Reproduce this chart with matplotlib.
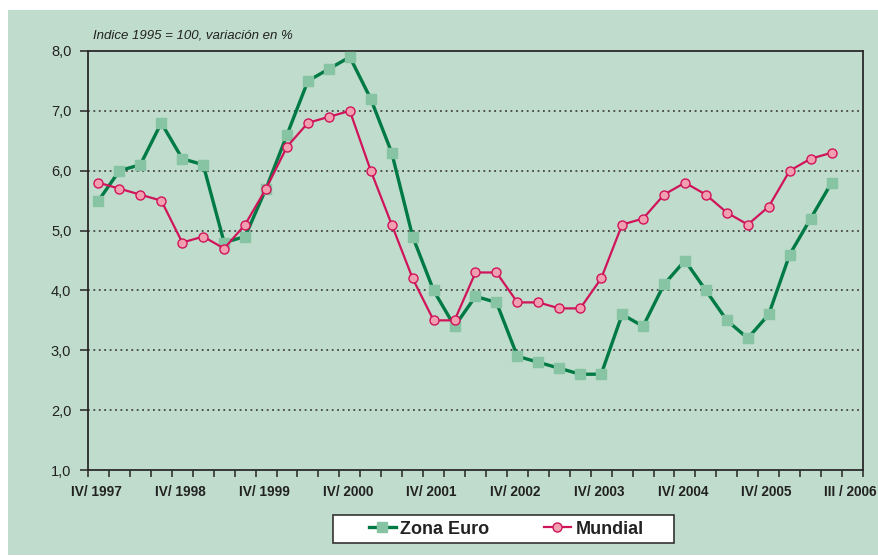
import matplotlib
matplotlib.use("Agg")
import matplotlib.pyplot as plt
from matplotlib.patches import Rectangle
import numpy as np

plt.rcParams['font.family'] = ['Liberation Sans', 'DejaVu Sans']

zona_euro = [5.5, 6.0, 6.1, 6.8, 6.2, 6.1, 4.8, 4.9, 5.7, 6.6, 7.5, 7.7, 7.9, 7.2,
             6.3, 4.9, 4.0, 3.4, 3.9, 3.8, 2.9, 2.8, 2.7, 2.6, 2.6, 3.6, 3.4, 4.1,
             4.5, 4.0, 3.5, 3.2, 3.6, 4.6, 5.2, 5.8]
mundial = [5.8, 5.7, 5.6, 5.5, 4.8, 4.9, 4.7, 5.1, 5.7, 6.4, 6.8, 6.9, 7.0, 6.0,
           5.1, 4.2, 3.5, 3.5, 4.3, 4.3, 3.8, 3.8, 3.7, 3.7, 4.2, 5.1, 5.2, 5.6,
           5.8, 5.6, 5.3, 5.1, 5.4, 6.0, 6.2, 6.3]
tick_labels = ["IV/ 1997", "IV/ 1998", "IV/ 1999", "IV/ 2000", "IV/ 2001", "IV/ 2002",
               "IV/ 2003", "IV/ 2004", "IV/ 2005", "III / 2006"]
tick_pos = [0, 4, 8, 12, 16, 20, 24, 28, 32, 36]
y_ticks = [1, 2, 3, 4, 5, 6, 7, 8]

BG = "#c0dccc"
W, H = 879, 556
fig = plt.figure(figsize=(W / 100, H / 100), dpi=100)
fig.patch.set_facecolor("white")
fig.patches.append(Rectangle((8 / W, 1 - 555 / H), (W - 8) / W, (555 - 10) / H,
                             transform=fig.transFigure, facecolor=BG, edgecolor="none", zorder=-10))
# legend box
fig.patches.append(Rectangle((333 / W, 1 - 543 / H), (674 - 333) / W, (543 - 515) / H,
                             transform=fig.transFigure, facecolor="white", edgecolor="#333333",
                             lw=1.2, zorder=-5))

ax = fig.add_axes([88 / W, 1 - 470 / H, (863 - 88) / W, (470 - 51) / H])
ax.set_facecolor(BG)
x = np.arange(len(zona_euro))

ax.plot(x, zona_euro, color="#007a45", lw=2.4, marker="s", ms=7,
        mfc="#86c4a4", mec="#86c4a4", label="Zona Euro", zorder=3)
ax.plot(x, mundial, color="#d0145a", lw=1.6, marker="o", ms=6.5,
        mfc="#f0a0b0", mec="#d0145a", mew=1.0, label="Mundial", zorder=4)

ax.set_xlim(-0.5, 36.5)
ax.set_ylim(1, 8)
ax.set_yticks(y_ticks)
ax.set_yticklabels([f"{v:.1f}".replace(".", ",") for v in y_ticks], fontsize=10.5, color="#222222")
ax.set_xticks(np.arange(-0.5, 37, 1))
ax.set_xticklabels([])
ax.tick_params(axis="x", length=5, width=1.2, color="#333333", direction="out")
ax.tick_params(axis="y", length=6, width=1.2, color="#333333", direction="out", pad=6)
for p, lab in zip(tick_pos, tick_labels):
    ax.text(p - 0.1, -0.035, lab, transform=ax.get_xaxis_transform(), ha="center", va="top",
            fontsize=9.8, fontweight="bold", color="#222222")

for y in y_ticks[1:-1]:
    ax.axhline(y, color="#444444", lw=1.3, ls=(0, (1, 2)), zorder=1)
for s in ax.spines.values():
    s.set_color("#2a2a2a")
    s.set_linewidth(1.3)

fig.text(93 / W, 1 - 36 / H, "Indice 1995 = 100, variación en %", fontsize=9.5,
         style="italic", color="#222222", va="center", ha="left")

leg = fig.legend(loc="center", bbox_to_anchor=((333 + 674) / 2 / W + 0.003, 1 - 529 / H),
                 ncol=2, frameon=False, prop={"size": 13, "weight": "bold"},
                 handlelength=1.5, columnspacing=3.0, borderpad=0.25, handletextpad=0.25)
for t in leg.get_texts():
    t.set_color("#222222")

fig.savefig("out.png", dpi=100, facecolor="white")
